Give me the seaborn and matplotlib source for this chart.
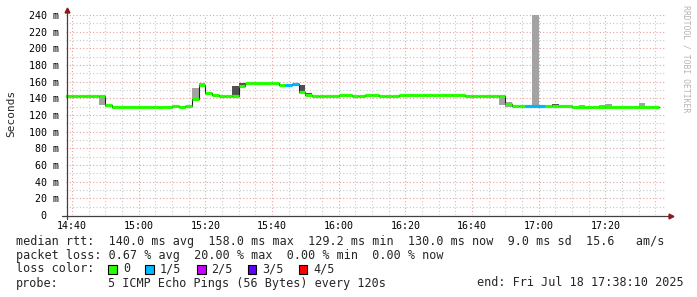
import matplotlib
matplotlib.use("Agg")
import matplotlib.pyplot as plt
import matplotlib.dates as mdates
import matplotlib.ticker as mticker
from matplotlib.patches import Rectangle
from matplotlib.lines import Line2D
import seaborn as sns
import pandas as pd
import numpy as np

# ---------------- data ----------------
window_start = "2025-07-18 14:38:10"
window_end = "2025-07-18 17:38:10"
first_step = "2025-07-18 14:38:00"
step_seconds = 120

median_ms = [
    143.0, 143.0, 143.0, 143.0, 143.0, 143.0, 132.4, 129.6, 129.6, 129.6,
    129.6, 129.2, 129.6, 129.6, 129.6, 129.2, 130.4, 129.2, 130.4, 139.6,
    155.6, 146.8, 144.4, 142.8, 142.4, 142.4, 154.4, 158.0, 158.0, 158.0,
    158.0, 158.0, 156.4, 156.4, 157.6, 147.2, 144.4, 143.2, 143.2, 143.2,
    143.2, 144.4, 143.6, 143.2, 143.2, 144.4, 144.4, 143.2, 143.2, 143.2,
    144.4, 144.4, 144.4, 144.4, 144.4, 144.4, 144.4, 144.4, 144.4, 143.6,
    142.8, 142.8, 142.8, 142.8, 142.8, 142.8, 133.6, 130.4, 130.4, 130.4,
    130.4, 130.4, 130.8, 130.8, 130.8, 130.8, 130.0, 129.4, 129.4, 129.4,
    129.4, 129.4, 129.4, 129.4, 129.4, 129.4, 129.4, 129.4, 130.0,
]
loss_steps = [33, 34, 69, 70, 71]
loss_counts = [1, 1, 1, 1, 1]

smoke_steps = [5, 6, 19, 20, 25, 26, 35, 36, 65, 66, 70, 73, 77, 80, 81, 86]
smoke_lo = [132.4, 129.2, 139.6, 155.6, 142.4, 154.4, 147.2, 144.4, 132.4, 129.2,
            130.4, 130.4, 129.2, 129.2, 129.2, 129.2]
smoke_hi = [143.0, 132.4, 152.4, 158.8, 154.8, 158.4, 156.4, 146.4, 142.8, 135.6,
            250.0, 133.6, 132.4, 131.6, 133.2, 134.4]
smoke_dark = [0, 0, 0, 0, 1, 1, 1, 1, 0, 0, 0, 1, 0, 0, 0, 0]

loss_labels = ["0", "1/5", "2/5", "3/5", "4/5"]
loss_colors = ["#26ff00", "#00b8ff", "#c800ff", "#6000ff", "#ff0000"]

stat_line1 = "median rtt:  140.0 ms avg  158.0 ms max  129.2 ms min  130.0 ms now  9.0 ms sd  15.6   am/s"
stat_line2 = "packet loss: 0.67 % avg  20.00 % max  0.00 % min  0.00 % now"
probe_text = "5 ICMP Echo Pings (56 Bytes) every 120s"
end_text = "end: Fri Jul 18 17:38:10 2025"
y_label = "Seconds"
watermark = "RRDTOOL / TOBI OETIKER"

# ---------------- build frames ----------------
steps = pd.date_range(first_step, periods=len(median_ms), freq=f"{step_seconds}s")
step_w = step_seconds / 86400.0
loss = np.zeros(len(median_ms), dtype=int)
for s, c in zip(loss_steps, loss_counts):
    loss[s] = c
df = pd.DataFrame({"t": steps, "median": median_ms, "loss": loss})
df_line = pd.concat([df, pd.DataFrame({"t": [steps[-1] + pd.Timedelta(seconds=step_seconds)],
                                       "median": [median_ms[-1]], "loss": [loss[-1]]})],
                    ignore_index=True)

# ---------------- figure ----------------
W, H = 697, 297
sns.set_theme(style="white")
plt.rcParams["font.family"] = ["DejaVu Sans Mono", "DejaVu Sans"]

fig = plt.figure(figsize=(W / 100, H / 100), dpi=100)
fig.patch.set_facecolor("white")

def fx(x):
    return x / W

def fy(y):
    return 1 - y / H

ax = fig.add_axes([fx(66), fy(215), 600 / W, 200 / H])
ax.set_facecolor("white")
ax.set_xlim(pd.Timestamp(window_start), pd.Timestamp(window_end))
ax.set_ylim(0, 240)

ax.xaxis.set_major_locator(mdates.MinuteLocator(byminute=[0, 20, 40]))
ax.xaxis.set_minor_locator(mdates.MinuteLocator(byminute=range(0, 60, 5)))
ax.xaxis.set_major_formatter(mdates.DateFormatter("%H:%M"))
ax.yaxis.set_major_locator(mticker.MultipleLocator(20))
ax.yaxis.set_minor_locator(mticker.MultipleLocator(10))
ax.yaxis.set_major_formatter(mticker.FuncFormatter(lambda v, p: f"{int(round(v))} m" if v > 0 else "0  "))
ax.grid(which="minor", color="#c8c8c8", linestyle=(0, (1, 2)), linewidth=0.8)
ax.grid(which="major", color="#e6a0a0", linestyle=(0, (1, 2)), linewidth=0.8)
ax.set_axisbelow(True)
for sp in ax.spines.values():
    sp.set_visible(False)
ax.tick_params(axis="both", which="both", labelsize=7.2, colors="#404040", labelcolor="black",
               direction="out")
ax.tick_params(axis="x", which="major", length=3, pad=1.2, width=0.8)
ax.tick_params(axis="x", which="minor", length=2, width=0.8)
ax.tick_params(axis="y", which="major", length=2, pad=3, width=0.8)
ax.tick_params(axis="y", which="minor", length=0)

# smoke
sm_x = [mdates.date2num(steps[s]) for s in smoke_steps]
sm_col = ["#505050" if d else "#a3a3a3" for d in smoke_dark]
ax.bar(sm_x, np.array(smoke_hi) - np.array(smoke_lo), bottom=smoke_lo, width=step_w,
       align="edge", color=sm_col, linewidth=0, zorder=2)

# thin dark median step line
sns.lineplot(data=df_line, x="t", y="median", estimator=None, drawstyle="steps-post",
             color="#202020", linewidth=0.8, ax=ax, zorder=3, legend=False)
ax.set_xlabel("")
ax.set_ylabel("")

# loss coloured median segments
x0 = mdates.date2num(df["t"])
ax.hlines(df["median"], x0, x0 + step_w, colors=[loss_colors[l] for l in df["loss"]],
          linewidth=2.3, zorder=4, capstyle="butt")

ax.set_xlim(pd.Timestamp(window_start), pd.Timestamp(window_end))
ax.set_ylim(0, 240)

# axis lines and arrows
axc = "#404040"
fig.add_artist(Line2D([fx(62), fx(670)], [fy(215.5), fy(215.5)], color=axc, lw=0.9))
fig.add_artist(Line2D([fx(66.5), fx(66.5)], [fy(219), fy(11)], color=axc, lw=0.9))
fig.add_artist(Line2D([fx(671)], [fy(215.5)], marker=">", color="#8b1a1a", markersize=3.5, lw=0))
fig.add_artist(Line2D([fx(66.5)], [fy(10)], marker="^", color="#8b1a1a", markersize=3.5, lw=0))

# y label + watermark
fig.text(fx(11), fy(113), y_label, rotation=90, ha="center", va="center", fontsize=8)
fig.text(fx(686), fy(59), watermark, rotation=270, ha="center", va="center", fontsize=5.9,
         color="#b4b4b4")

# legend area
ls = 8.5
fig.text(fx(16), fy(241), stat_line1, ha="left", va="center", fontsize=ls)
fig.text(fx(16), fy(255), stat_line2, ha="left", va="center", fontsize=ls)
fig.text(fx(16), fy(269), "loss color:", ha="left", va="center", fontsize=ls)
sq_x = [108, 145, 197, 247.5, 298.5]
tx_x = [123, 160, 211, 262, 313]
for sx, tx, lab, col in zip(sq_x, tx_x, loss_labels, loss_colors):
    fig.add_artist(Rectangle((fx(sx), fy(273.5)), 8.5 / W, 8.5 / H, transform=fig.transFigure,
                             facecolor=col, edgecolor="black", linewidth=0.8))
    fig.text(fx(tx), fy(269), lab, ha="left", va="center", fontsize=ls)
fig.text(fx(16), fy(283), "probe:", ha="left", va="center", fontsize=ls)
fig.text(fx(108), fy(283), probe_text, ha="left", va="center", fontsize=ls)
fig.text(fx(477), fy(283), end_text, ha="left", va="center", fontsize=ls)

fig.savefig("out.png", dpi=100, facecolor="white")
